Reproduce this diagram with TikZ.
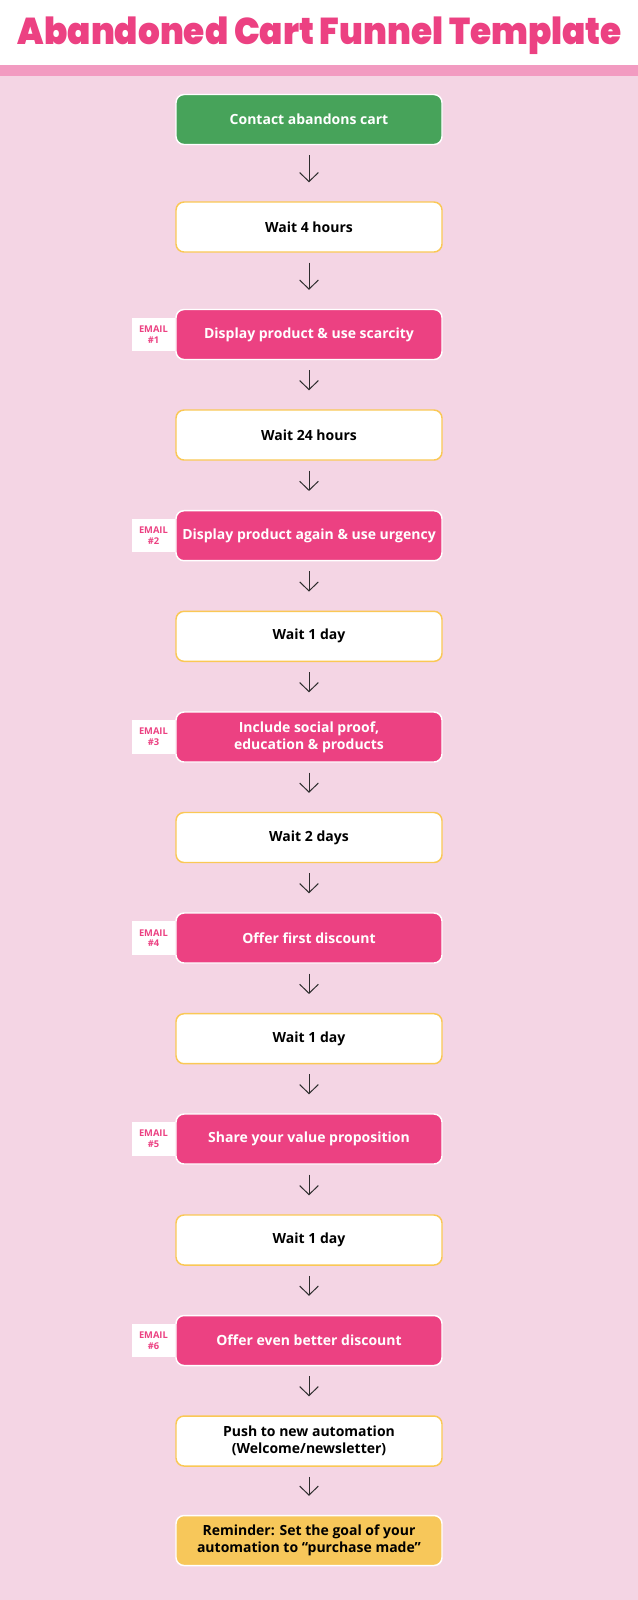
\documentclass[tikz,border=0pt]{standalone}
\usepackage{fontspec}
\setmainfont{Open Sans}
\IfFontExistsTF{Poppins Black}{\newfontfamily\titlefont{Poppins Black}}{\newfontfamily\titlefont{Poppins}[UprightFont=*, UprightFeatures={FakeBold=3}]}
\usetikzlibrary{arrows.meta}

\definecolor{funnelpink}{RGB}{236,65,130}
\definecolor{stripepink}{RGB}{242,155,193}
\definecolor{bgpink}{RGB}{244,213,228}
\definecolor{startgreen}{RGB}{71,163,90}
\definecolor{waitborder}{RGB}{250,200,85}
\definecolor{remindyellow}{RGB}{247,199,90}
\definecolor{arrowgray}{RGB}{45,45,45}

\tikzset{every picture/.style={line width=0.75pt}}
\tikzset{
  stepbase/.style={rounded corners=6pt, minimum width=199.5pt, minimum height=37.5pt, inner sep=0pt, align=center, line width=1.1pt, font=\bfseries\fontsize{10.5}{12.5}\selectfont},
  startbox/.style={stepbase, fill=startgreen, draw=white, text=white},
  waitbox/.style={stepbase, fill=white, draw=waitborder, text=black},
  emailbox/.style={stepbase, fill=funnelpink, draw=white, text=white},
  remindbox/.style={stepbase, fill=remindyellow, draw=white, text=black},
  emailtag/.style={anchor=east, fill=white, text=funnelpink, minimum width=32pt, minimum height=25pt, inner sep=0pt, align=center, font=\bfseries\fontsize{7}{8}\selectfont},
  flow/.style={draw=arrowgray, line width=0.75pt, shorten <=7.5pt, shorten >=14.25pt, -{Straight Barb[length=6.75pt,width=14pt]}},
}

\begin{document}
\begin{tikzpicture}[x=0.75pt,y=0.75pt,yscale=-1,xscale=1]
\useasboundingbox (0,0) rectangle (638,1600); %set diagram size 638 x 1600

%Background and header
\fill[bgpink] (0,76) rectangle (638,1600);
\fill[white] (0,0) rectangle (638,65);
\fill[stripepink] (0,65) rectangle (638,76);
\node[anchor=base, text=funnelpink, inner sep=0pt] (title) at (320,44) {\resizebox{453pt}{\height}{\titlefont\fontsize{28}{30}\selectfont Abandoned Cart Funnel Template}};

% Steps
\node[startbox] (start) at (309,119.5) {Contact abandons cart};
\node[waitbox] (waitA) at (309,227) {Wait 4 hours};
\node[emailbox] (mailA) at (309,334.5) {Display product \& use scarcity};
\node[waitbox] (waitB) at (309,435) {Wait 24 hours};
\node[emailbox] (mailB) at (309,535.7) {Display product again \& use urgency};
\node[waitbox] (waitC) at (309,636.3) {Wait 1 day};
\node[emailbox] (mailC) at (309,737) {Include social proof,\\education \& products};
\node[waitbox] (waitD) at (309,837.5) {Wait 2 days};
\node[emailbox] (mailD) at (309,938) {Offer first discount};
\node[waitbox] (waitE) at (309,1038.7) {Wait 1 day};
\node[emailbox] (mailE) at (309,1139) {Share your value proposition};
\node[waitbox] (waitF) at (309,1240) {Wait 1 day};
\node[emailbox] (mailF) at (309,1340.5) {Offer even better discount};
\node[waitbox] (push) at (309,1441) {Push to new automation\\(Welcome/newsletter)};
\node[remindbox] (remind) at (309,1540.5) {Reminder: Set the goal of your\\automation to ``purchase made''};

% Email tags
\foreach \m/\n in {mailA/1, mailB/2, mailC/3, mailD/4, mailE/5, mailF/6}
  \node[emailtag] (tag\n) at (\m.west) {EMAIL\\\#\n};

% Arrows
\foreach \a/\b in {start/waitA, waitA/mailA, mailA/waitB, waitB/mailB, mailB/waitC, waitC/mailC, mailC/waitD, waitD/mailD, mailD/waitE, waitE/mailE, mailE/waitF, waitF/mailF, mailF/push, push/remind}
  \draw[flow] (\a.south) -- (\b.north);

\end{tikzpicture}
\end{document}
